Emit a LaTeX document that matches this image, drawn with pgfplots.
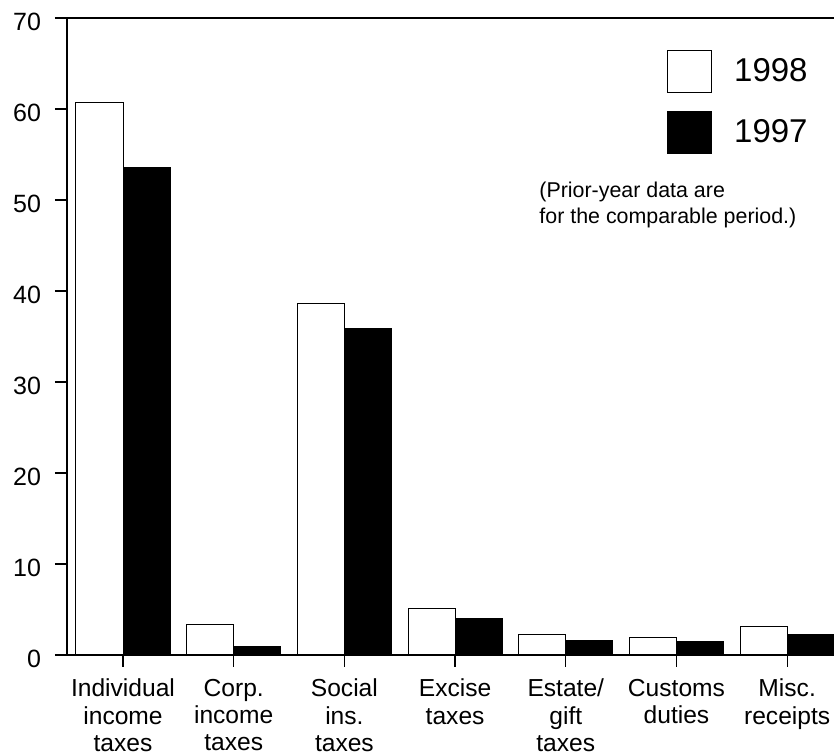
\documentclass[border=0pt]{standalone}
\usepackage{fontspec}
\setmainfont{Liberation Sans}
\usepackage{pgfplots}
\pgfplotsset{compat=1.18}
\pgfplotsset{boxlegend/.style={legend image code/.code={\draw[##1] (0pt,-10.5pt) rectangle (22pt,10.5pt);\path (31pt,0pt);}}}

\begin{document}
\begin{tikzpicture}
\begin{axis}[
    name=a,
    scale only axis,
    width=383.5pt, height=318.5pt,
    ybar=0pt, bar width=0.425,
    xmin=-0.506, xmax=6.423,
    ymin=0, ymax=70,
    ytick={0,10,...,70},
    xtick={0,...,6},
    xticklabels={{Individual\\income\\taxes},{Corp.\\income\\taxes},{Social\\ins.\\taxes},{Excise\\taxes},{Estate/\\gift\\taxes},{Customs\\duties},{Misc.\\receipts}},
    xticklabel style={align=center, font=\fontsize{12.3}{13.6}\selectfont, yshift=-2.5pt},
    yticklabel style={font=\fontsize{12.5}{14}\selectfont, xshift=-3.5pt, yshift=-2pt},
    /pgf/number format/assume math mode=true,
    axis line style={draw=none},
    tick align=outside,
    major tick length=6pt,
    xtick pos=bottom, ytick pos=left,
    tick style={black, line width=0.6pt},
    clip=false,
    legend style={draw=none, fill=none, at={(rel axis cs:0.782,0.951)}, anchor=north west,
        font=\fontsize{16.5}{18}\selectfont, row sep=9pt, inner sep=0pt},
    legend cell align=left,
]
\addplot[draw=black, line width=0.5pt, fill=white, boxlegend]
    coordinates {(0,60.7) (1,3.3) (2,38.6) (3,5.1) (4,2.3) (5,1.9) (6,3.1)};
\addplot[draw=black, line width=0.5pt, fill=black, boxlegend]
    coordinates {(0,53.6) (1,0.9) (2,35.9) (3,4.0) (4,1.6) (5,1.5) (6,2.3)};
\legend{1998,1997}
\draw[line width=0.75pt] (rel axis cs:0,1) -- (rel axis cs:1,1);
\draw[line width=0.75pt] (rel axis cs:0,0) -- (rel axis cs:1,0);
\draw[line width=0.75pt] (rel axis cs:0,0) -- (rel axis cs:0,1);
\node[anchor=north west, inner sep=0pt, align=left, font=\fontsize{10.7}{13}\selectfont]
    at (axis cs:3.758,52.0) {(Prior-year data are\\for the comparable period.)};
\end{axis}
\path (a.south west) ++(-33.5pt,-50pt) coordinate (bl);
\path (a.north east) ++(0pt,9pt) coordinate (tr);
\pgfresetboundingbox
\path (bl) rectangle (tr);
\end{tikzpicture}
\end{document}
